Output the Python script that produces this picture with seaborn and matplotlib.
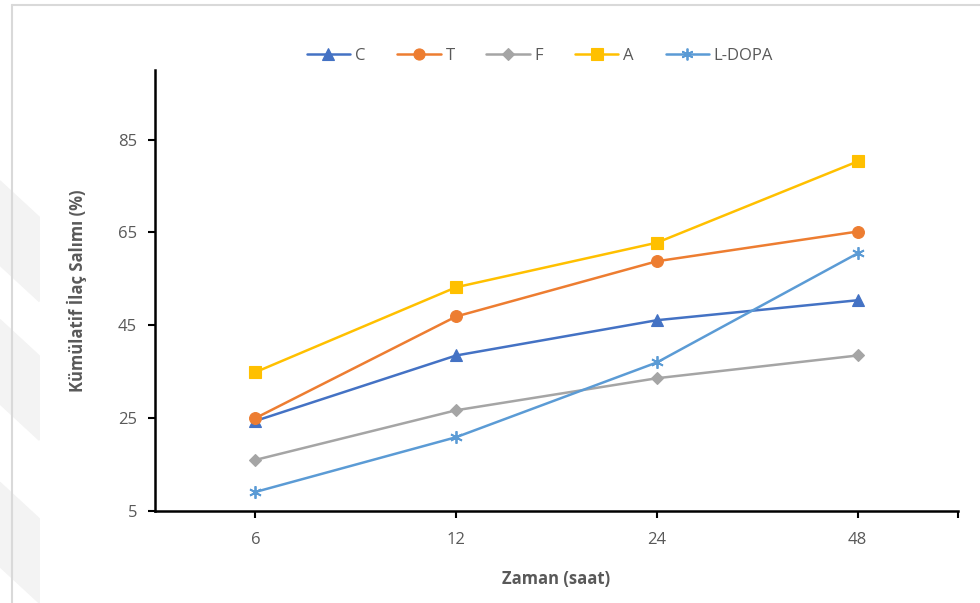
import numpy as np
import pandas as pd
import matplotlib
matplotlib.use("Agg")
import matplotlib.pyplot as plt
from matplotlib.patches import Polygon
from matplotlib.lines import Line2D
import seaborn as sns

# Release data (cumulative %, per formulation)
hours = ["6", "12", "24", "48"]
series_names = ["C", "T", "F", "A", "L-DOPA"]
c_vals = [24.4, 38.5, 46.1, 50.4]
t_vals = [25.0, 46.9, 58.8, 65.2]
f_vals = [16.0, 26.7, 33.6, 38.5]
a_vals = [34.9, 53.2, 62.8, 80.3]
ldopa_vals = [9.1, 20.9, 37.0, 60.5]
y_ticks = [5, 25, 45, 65, 85]

colors = {"C": "#4472C4", "T": "#ED7D31", "F": "#A5A5A5",
          "A": "#FFC000", "L-DOPA": "#5B9BD5"}
markers = {"C": "^", "T": "o", "F": "D", "A": "s", "L-DOPA": (6, 2, 0)}
msizes = {"C": 8.5, "T": 8.5, "F": 6.5, "A": 8.5, "L-DOPA": 9}

values = [c_vals, t_vals, f_vals, a_vals, ldopa_vals]
rows = []
for name, vals in zip(series_names, values):
    for i, (h, v) in enumerate(zip(hours, vals)):
        rows.append({"seri": name, "saat": h, "pos": i, "deger": v})
df = pd.DataFrame(rows)

sns.set_theme(style="white")
plt.rcParams["font.family"] = ["Open Sans", "DejaVu Sans"]

fig = plt.figure(figsize=(9.8, 6.03), dpi=100)
fig.patch.set_facecolor("white")

# faint watermark shapes at the left edge
wm = "#f3f3f3"
for top, bot in [(0.70, 0.56), (0.47, 0.33), (0.20, 0.06)]:
    fig.patches.append(Polygon([[0, top], [0.04, top - 0.06], [0.04, bot - 0.06], [0, bot]],
                               closed=True, transform=fig.transFigure, color=wm, zorder=0))
# chart frame (top and left edges)
fig.add_artist(Line2D([12 / 980, 12 / 980], [0, 1 - 5 / 603], transform=fig.transFigure,
                      color="#d9d9d9", lw=1.5))
fig.add_artist(Line2D([12 / 980, 1], [1 - 5 / 603, 1 - 5 / 603], transform=fig.transFigure,
                      color="#d9d9d9", lw=1.5))

ax = fig.add_axes([155 / 980, (603 - 511) / 603, (958 - 155) / 980, (511 - 70) / 603])
ax.set_facecolor("none")

for name in series_names:
    sub = df[df["seri"] == name]
    sns.lineplot(data=sub, x="pos", y="deger", ax=ax, color=colors[name],
                 marker=markers[name], markersize=msizes[name],
                 markerfacecolor=colors[name], markeredgecolor=colors[name],
                 markeredgewidth=1.3 if name == "L-DOPA" else 0.8,
                 linewidth=1.8, label=name, sort=False, legend=False)

ax.set_xlim(-0.5, 3.5)
ax.set_ylim(5, 100)
ax.set_xticks(list(range(len(hours))) + [3.5])
ax.set_xticklabels(hours + [""])
ax.set_yticks(y_ticks)
ax.set_yticklabels([str(t) for t in y_ticks])

for side in ["top", "right"]:
    ax.spines[side].set_visible(False)
for side in ["left", "bottom"]:
    ax.spines[side].set_visible(True)
    ax.spines[side].set_color("black")
    ax.spines[side].set_linewidth(1.8)

ax.tick_params(axis="both", which="major", direction="out", length=5, width=1.5,
               color="black", labelsize=12, labelcolor="#595959", pad=8,
               left=True, bottom=True)
ax.tick_params(axis="x", pad=10)

ax.set_xlabel("Zaman (saat)", fontsize=12, fontweight="bold", color="#595959", labelpad=16)
ax.set_ylabel("Kümülatif İlaç Salımı (%)", fontsize=12, fontweight="bold", color="#595959",
              labelpad=22)

handles = [Line2D([0], [0], color=colors[n], marker=markers[n], markersize=msizes[n] - 0.5,
                  markerfacecolor=colors[n], markeredgecolor=colors[n], lw=1.8,
                  markeredgewidth=1.3 if n == "L-DOPA" else 0.8)
           for n in series_names]
leg = fig.legend(handles, series_names, loc="center", bbox_to_anchor=(540 / 980, 1 - 56 / 603),
                 ncol=5, frameon=False, fontsize=12, handlelength=2.6, columnspacing=1.9,
                 handletextpad=0.3)
for txt in leg.get_texts():
    txt.set_color("#595959")

fig.savefig("out.png", dpi=100, facecolor="white")
